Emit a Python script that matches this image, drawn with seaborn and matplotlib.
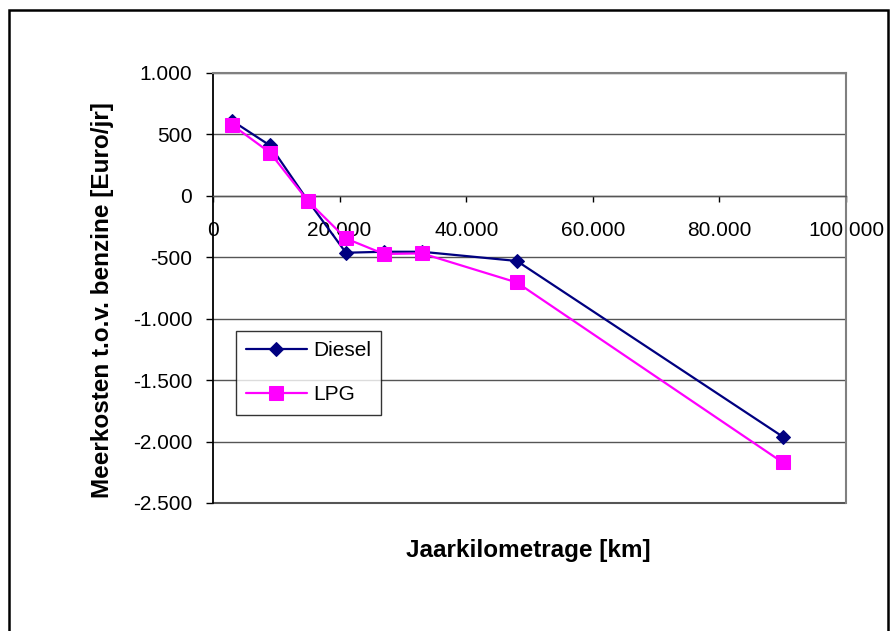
import matplotlib
matplotlib.use("Agg")
import matplotlib.pyplot as plt
from matplotlib.patches import Rectangle
from matplotlib.ticker import FuncFormatter
import numpy as np
import pandas as pd
import seaborn as sns

# Annual distance driven (km) and extra yearly cost versus petrol (EUR/yr)
km = [3000, 9000, 15000, 21000, 27000, 33000, 48000, 90000]
diesel = [612, 410, -40, -463, -455, -455, -530, -1960]
lpg = [578, 352, -42, -347, -473, -468, -705, -2170]

x_ticks = [0, 20000, 40000, 60000, 80000, 100000]
y_ticks = [1000, 500, 0, -500, -1000, -1500, -2000, -2500]

series_names = ["Diesel", "LPG"]
series_colors = {"Diesel": "#000080", "LPG": "#FF00FF"}
series_markers = {"Diesel": "D", "LPG": "s"}
series_msize = {"Diesel": 7.5, "LPG": 9.5}

df = pd.DataFrame({
    "km": km * 2,
    "kosten": diesel + lpg,
    "brandstof": ["Diesel"] * len(km) + ["LPG"] * len(km),
})

sns.set_style("white")
plt.rcParams["font.family"] = ["Liberation Sans", "DejaVu Sans"]
plt.rcParams["text.color"] = "black"
plt.rcParams["xtick.color"] = "black"
plt.rcParams["ytick.color"] = "black"
plt.rcParams["axes.labelcolor"] = "black"

W, H = 890, 631
fig = plt.figure(figsize=(W / 100, H / 100), dpi=100)
ax = fig.add_axes([213 / W, 1 - 503 / H, (846 - 213) / W, (503 - 73) / H])

for name in series_names:
    sub = df[df["brandstof"] == name]
    sns.lineplot(data=sub, x="km", y="kosten", ax=ax, color=series_colors[name],
                 marker=series_markers[name], markersize=series_msize[name],
                 markeredgecolor=series_colors[name], linewidth=1.6,
                 label=name, zorder=3)

ax.set_xlim(0, 100000)
ax.set_ylim(-2500, 1000)
ax.set_xticks(x_ticks)
ax.set_yticks(y_ticks)

fmt = FuncFormatter(lambda v, p: f"{v:,.0f}".replace(",", ".").replace("\u2212", "-"))
ax.xaxis.set_major_formatter(fmt)
ax.yaxis.set_major_formatter(fmt)

grid_col = "#555555"
ax.yaxis.grid(True, color=grid_col, linewidth=1.0)
ax.xaxis.grid(False)
ax.set_axisbelow(True)

ax.spines["left"].set_color("black")
ax.spines["left"].set_linewidth(1.3)
ax.spines["bottom"].set_position(("data", 0))
ax.spines["bottom"].set_color(grid_col)
ax.spines["bottom"].set_linewidth(1.0)
for s in ("top", "right"):
    ax.spines[s].set_color("#808080")
    ax.spines[s].set_linewidth(1.5)
ax.axhline(-2500, color=grid_col, linewidth=1.5, clip_on=False, zorder=1)

ax.tick_params(axis="y", direction="out", length=5, width=1, colors="black",
               labelsize=15, pad=10, left=True)
ax.tick_params(axis="x", direction="out", length=4, width=1, colors="black",
               labelsize=15, pad=14, bottom=True)

ax.set_xlabel("")
ax.set_ylabel("")

fig.text(528.5 / W, 1 - 557 / H, "Jaarkilometrage [km]", ha="center", va="baseline",
         fontsize=17.5, fontweight="bold", color="black")
fig.text(103 / W, 1 - 300 / H, "Meerkosten t.o.v. benzine [Euro/jr]", ha="center",
         va="center", rotation=90, fontsize=17.5, fontweight="bold", color="black")

leg = ax.legend(loc="lower left", bbox_to_anchor=(0.036, 0.205), borderaxespad=0,
                fontsize=15, frameon=True, fancybox=False, shadow=False,
                handlelength=2.9, labelspacing=1.2, borderpad=0.5,
                handletextpad=0.3)
leg.get_frame().set_edgecolor("black")
leg.get_frame().set_linewidth(1.0)
for t in leg.get_texts():
    t.set_color("black")

fig.patches.append(Rectangle((9 / W, -0.05), (888 - 9) / W, 1.05 - 10 / H,
                             transform=fig.transFigure, fill=False,
                             edgecolor="black", linewidth=1.8))

fig.savefig("out.png", dpi=100)
